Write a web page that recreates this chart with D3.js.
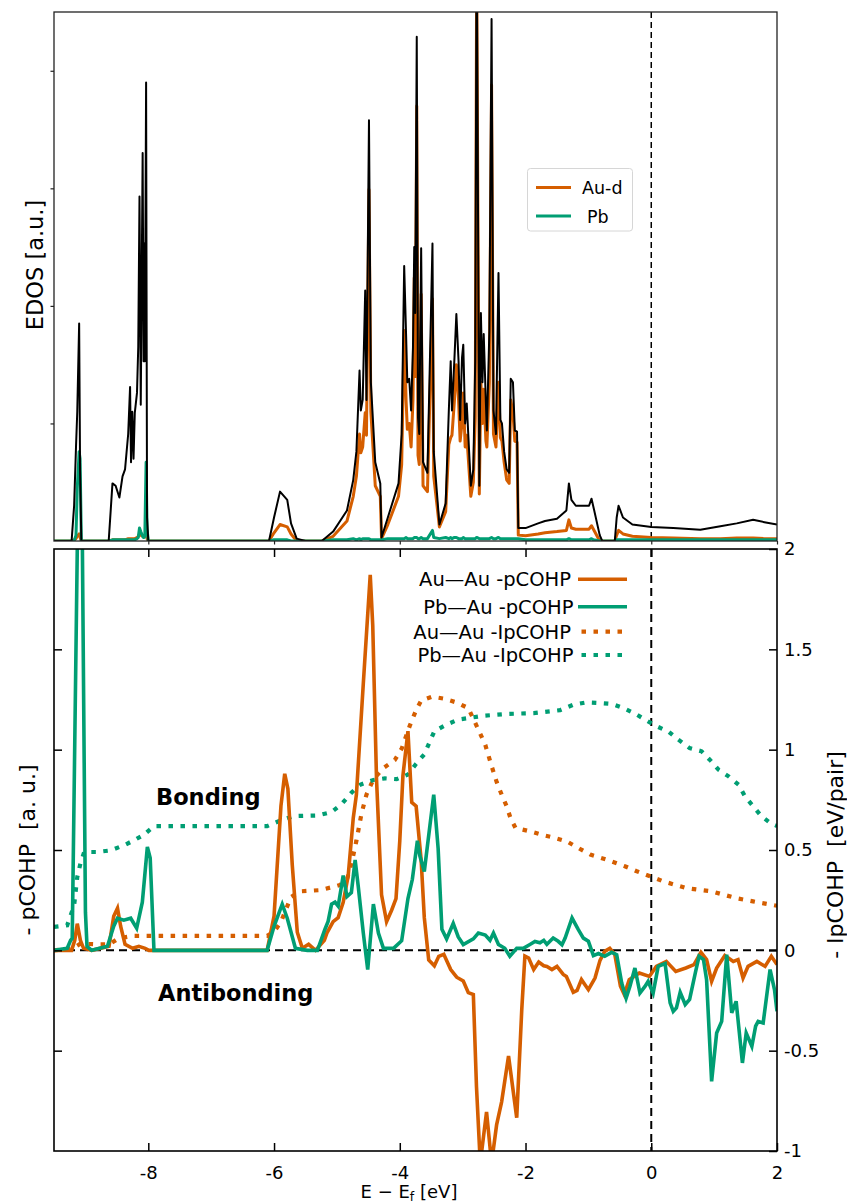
<!DOCTYPE html>
<html>
<head>
<meta charset="utf-8">
<script src="https://cdn.jsdelivr.net/npm/d3@7/dist/d3.min.js"></script>
<style>
  body { margin: 0; background: #fff; }
  svg { display: block; }
  text { font-family: "DejaVu Sans", sans-serif; fill: #000; }
</style>
</head>
<body>
<svg id="chart" width="847" height="1204"></svg>
<script>
// ---------- EDOS (upper panel): energy grid and projected densities ----------
const edosEnergy = [
  -9.50, -9.22, -9.18, -9.15, -9.13, -9.10, -9.085, -9.065,
  -8.63, -8.57, -8.52, -8.46, -8.41, -8.37, -8.32, -8.29, -8.275, -8.255, -8.235, -8.215,
  -8.18, -8.16, -8.14, -8.12, -8.09, -8.075, -8.065, -8.055, -8.035, -8.02, -8.00,
  -6.08, -6.00, -5.905, -5.79, -5.73, -5.64, -5.50,
  -5.24, -5.06, -4.84, -4.74, -4.69, -4.64, -4.62, -4.59, -4.55, -4.53, -4.49, -4.46,
  -4.39, -4.31, -4.29, -4.19, -4.02, -3.97, -3.93, -3.90, -3.88, -3.85, -3.82, -3.79,
  -3.77, -3.755, -3.73, -3.71, -3.69, -3.66, -3.63, -3.56, -3.48, -3.46, -3.37, -3.27,
  -3.22, -3.19, -3.17, -3.13, -3.10, -3.065, -3.04, -3.01, -2.99, -2.96, -2.935, -2.87,
  -2.83, -2.80, -2.777, -2.735, -2.71, -2.685, -2.665, -2.63, -2.615, -2.575, -2.54, -2.51,
  -2.47, -2.43, -2.40, -2.375, -2.34, -2.30, -2.26, -2.235, -2.20, -2.17, -2.135, -2.115,
  -2.00, -1.80, -1.69, -1.50, -1.35, -1.31, -1.27, -1.20, -0.99, -0.95, -0.92, -0.82,
  -0.78, -0.58, -0.55, -0.52, -0.45, -0.30, 0.00, 0.35, 0.78, 1.10, 1.36, 1.62, 1.80, 2.00
];
const edosTotal = [
  0, 0, 0.30, 0.80, 1.10, 1.85, 0.60, 0,
  0, 0.49, 0.47, 0.37, 0.55, 0.61, 0.91, 1.31, 0.67, 1.10, 0.70, 1.09,
  1.26, 1.65, 2.93, 1.16, 3.30, 1.53, 2.53, 1.53, 3.90, 0.20, 0,
  0, 0.20, 0.42, 0.35, 0.15, 0.02, 0,
  0, 0.08, 0.26, 0.52, 0.76, 1.45, 1.11, 1.20, 2.13, 1.20, 3.58, 1.35,
  0.67, 0.49, 0.03, 0.20, 0.49, 0.91, 2.34, 1.76, 1.35, 1.38, 1.11, 1.65,
  2.50, 1.94, 4.29, 1.05, 0.91, 2.49, 0.67, 0.58, 2.53, 0.76, 0.14, 0.32,
  1.11, 1.53, 1.11, 1.56, 1.93, 1.53, 1.03, 1.56, 1.67, 1.00, 1.17, 0.47,
  0.61, 1.53, 5.20, 0.47, 1.94, 1.35, 1.76, 1.17, 0.94, 1.79, 4.44, 1.11,
  0.91, 2.28, 1.03, 1.00, 0.76, 0.61, 0.58, 1.38, 1.35, 0.94, 0.93, 0.11,
  0.11, 0.15, 0.17, 0.19, 0.26, 0.49, 0.35, 0.30, 0.30, 0.36, 0.29, 0.05,
  0, 0, 0.20, 0.30, 0.20, 0.14, 0.12, 0.11, 0.095, 0.125, 0.15, 0.18, 0.16, 0.14
];
const edosAuD = [
  0, 0, 0.01, 0.02, 0.04, 0.06, 0.03, 0,
  0, 0.01, 0.01, 0.01, 0.01, 0.01, 0.02, 0.02, 0.02, 0.02, 0.02, 0.02,
  0.03, 0.04, 0.06, 0.05, 0.04, 0.04, 0.04, 0.04, 0.06, 0.02, 0,
  0, 0.07, 0.14, 0.12, 0.06, 0, 0,
  0, 0.04, 0.17, 0.38, 0.55, 0.91, 0.75, 0.80, 1.09, 0.90, 2.99, 1.10,
  0.47, 0.38, 0.02, 0.14, 0.38, 0.65, 1.79, 1.20, 0.95, 1.00, 0.80, 1.20,
  2.24, 1.40, 3.70, 0.73, 0.65, 2.10, 0.47, 0.42, 2.06, 0.55, 0.12, 0.25,
  0.82, 0.88, 0.90, 1.20, 1.50, 1.20, 0.85, 1.00, 1.26, 0.80, 0.90, 0.38,
  0.50, 1.05, 4.90, 0.40, 1.35, 1.00, 1.29, 0.85, 0.80, 1.35, 3.88, 0.91,
  0.80, 1.35, 0.88, 0.85, 0.67, 0.52, 0.49, 1.20, 1.09, 0.85, 0.84, 0.05,
  0.045, 0.06, 0.07, 0.08, 0.09, 0.18, 0.11, 0.10, 0.10, 0.13, 0.10, 0,
  0, 0, 0.05, 0.09, 0.06, 0.04, 0.03, 0.025, 0.02, 0.02, 0.025, 0.025, 0.02, 0.02
];
const edosPb = [
  0, 0, 0, 0.05, 0.45, 0.76, 0.70, 0,
  0, 0.01, 0.01, 0.01, 0.01, 0.01, 0.01, 0.01, 0.01, 0.01, 0.01, 0.01,
  0.02, 0.03, 0.11, 0.08, 0.04, 0.03, 0.03, 0.05, 0.67, 0.10, 0,
  0, 0.01, 0.01, 0.01, 0, 0, 0,
  0, 0.01, 0.01, 0.02, 0.01, 0.02, 0.01, 0.02, 0.02, 0.02, 0.02, 0.01,
  0.01, 0.01, 0.01, 0.02, 0.02, 0.02, 0.02, 0.03, 0.02, 0.02, 0.02, 0.02,
  0.03, 0.03, 0.03, 0.02, 0.02, 0.03, 0.02, 0.02, 0.09, 0.03, 0.02, 0.03,
  0.02, 0.03, 0.02, 0.03, 0.03, 0.02, 0.02, 0.02, 0.03, 0.02, 0.02, 0.02,
  0.02, 0.02, 0.03, 0.02, 0.02, 0.02, 0.02, 0.02, 0.02, 0.02, 0.03, 0.02,
  0.02, 0.03, 0.02, 0.02, 0.02, 0.02, 0.02, 0.02, 0.02, 0.02, 0.02, 0.02,
  0.01, 0.01, 0.01, 0.01, 0.01, 0.02, 0.01, 0.01, 0.01, 0.02, 0.01, 0,
  0, 0, 0.01, 0.01, 0.01, 0.01, 0.01, 0.01, 0.01, 0.01, 0.01, 0.01, 0.01, 0.01
];

// ---------- COHP (lower panel): [energy, value] pairs ----------
const auAuPcohp = [
  [-9.5,0],[-9.22,0],[-9.17,0.05],[-9.13,0.133],[-9.08,0.05],[-9.03,0.01],[-8.9,0],
  [-8.625,0.02],[-8.55,0.17],[-8.49,0.21],[-8.44,0.12],[-8.37,0.03],[-8.25,0.01],[-8.15,0.02],
  [-8.05,0.01],[-7.99,0],[-6.11,0],[-6.0,0.17],[-5.89,0.72],[-5.83,0.88],[-5.78,0.805],
  [-5.71,0.425],[-5.63,0.09],[-5.55,0.01],[-5.45,0.03],[-5.34,0],[-5.2,0.05],[-5.16,0.086],
  [-5.06,0.143],[-4.98,0.163],[-4.90,0.239],[-4.82,0.373],[-4.74,0.66],[-4.69,0.776],
  [-4.58,1.33],[-4.47,1.871],[-4.43,1.618],[-4.37,0.852],[-4.29,0.277],[-4.21,0.143],
  [-4.13,0.2],[-4.06,0.258],[-4.0,0.546],[-3.95,0.871],[-3.87,1.092],[-3.81,0.737],
  [-3.74,0.718],[-3.66,0.45],[-3.61,0.163],[-3.54,-0.048],[-3.45,-0.077],[-3.38,-0.03],
  [-3.30,-0.02],[-3.19,-0.096],[-3.095,-0.134],[-2.99,-0.153],[-2.91,-0.211],[-2.83,-0.22],
  [-2.78,-0.68],[-2.72,-1.06],[-2.62,-0.805],[-2.54,-1.06],[-2.46,-0.87],[-2.38,-0.755],
  [-2.27,-0.527],[-2.14,-0.834],[-2.06,-0.297],[-2.01,-0.029],[-1.95,-0.038],[-1.87,-0.096],
  [-1.79,-0.058],[-1.71,-0.077],[-1.66,-0.08],[-1.58,-0.096],[-1.50,-0.08],[-1.40,-0.12],
  [-1.35,-0.13],[-1.24,-0.209],[-1.18,-0.2],[-1.11,-0.146],[-1.0,-0.196],[-0.895,-0.138],
  [-0.815,-0.05],[-0.74,-0.005],[-0.66,0.01],[-0.58,-0.02],[-0.49,-0.179],[-0.43,-0.22],
  [-0.35,-0.146],[-0.19,-0.113],[-0.03,-0.13],[0.08,-0.08],[0.24,-0.055],[0.39,-0.105],
  [0.55,-0.088],[0.68,-0.071],[0.79,-0.01],[0.88,-0.046],[0.96,-0.154],[1.04,-0.088],
  [1.17,-0.026],[1.305,-0.055],[1.38,-0.046],[1.46,-0.138],[1.54,-0.08],[1.68,-0.055],
  [1.81,-0.08],[1.91,-0.03],[2.0,-0.071]
];
const pbAuPcohp = [
  [-9.5,0],[-9.29,0.01],[-9.235,0.05],[-9.21,0.06],[-9.08,3.2],[-9.0,0.19],[-8.975,0.02],
  [-8.9,0],[-8.65,0.02],[-8.55,0.12],[-8.49,0.16],[-8.39,0.15],[-8.28,0.16],[-8.185,0.11],
  [-8.095,0.24],[-8.015,0.515],[-7.97,0.46],[-7.91,0],[-6.11,0],[-6.0,0.12],[-5.87,0.23],
  [-5.79,0.16],[-5.66,0.01],[-5.47,0],[-5.31,0],[-5.19,0.105],[-5.14,0.144],[-5.085,0.23],
  [-5.03,0.24],[-4.98,0.22],[-4.90,0.373],[-4.84,0.268],[-4.77,0.288],[-4.71,0.45],
  [-4.66,0.317],[-4.58,0.086],[-4.51,-0.096],[-4.42,0.23],[-4.34,0.086],[-4.26,0.01],
  [-4.10,0.01],[-3.97,0.048],[-3.87,0.258],[-3.80,0.354],[-3.72,0.546],[-3.68,0.47],
  [-3.61,0.393],[-3.52,0.623],[-3.46,0.776],[-3.39,0.508],[-3.33,0.105],[-3.255,0.057],
  [-3.15,0.134],[-3.07,0.067],[-2.99,0.029],[-2.83,0.057],[-2.75,0.086],[-2.64,0.076],
  [-2.565,0.05],[-2.51,0.086],[-2.43,0.029],[-2.33,0.01],[-2.25,-0.029],[-2.14,0.01],
  [-2.035,0.01],[-1.93,0.029],[-1.85,0.044],[-1.77,0.038],[-1.71,0.05],[-1.66,0.03],
  [-1.56,0.061],[-1.48,0.045],[-1.42,0.028],[-1.37,0.061],[-1.26,0.161],[-1.16,0.103],
  [-1.08,0.061],[-1.0,0.045],[-0.92,-0.026],[-0.84,-0.016],[-0.74,-0.03],[-0.63,-0.01],
  [-0.55,-0.022],[-0.47,-0.163],[-0.40,-0.238],[-0.34,-0.18],[-0.26,-0.088],[-0.18,-0.213],
  [-0.10,-0.18],[-0.05,-0.155],[0.03,-0.213],[0.11,-0.08],[0.22,-0.066],[0.30,-0.262],
  [0.35,-0.304],[0.40,-0.287],[0.46,-0.209],[0.54,-0.27],[0.61,-0.245],[0.70,-0.113],
  [0.76,-0.03],[0.83,-0.046],[0.88,-0.146],[0.96,-0.653],[1.04,-0.412],[1.12,-0.354],
  [1.20,-0.022],[1.28,-0.312],[1.35,-0.254],[1.45,-0.561],[1.51,-0.412],[1.60,-0.478],
  [1.66,-0.378],[1.70,-0.354],[1.78,-0.362],[1.89,-0.096],[1.96,-0.196],[2.0,-0.304]
];
const auAuIpcohp = [
  [-9.5,0],[-9.2,0.01],[-9.08,0.033],[-8.8,0.03],[-8.62,0.03],[-8.47,0.06],[-8.25,0.072],
  [-6.11,0.072],[-6.0,0.092],[-5.89,0.142],[-5.73,0.266],[-5.58,0.294],[-5.27,0.3],
  [-5.06,0.316],[-4.95,0.326],[-4.84,0.354],[-4.77,0.43],[-4.69,0.546],[-4.61,0.68],
  [-4.53,0.776],[-4.42,0.852],[-4.26,0.909],[-4.08,0.948],[-3.97,1.005],[-3.84,1.12],
  [-3.74,1.197],[-3.66,1.245],[-3.49,1.264],[-3.31,1.255],[-3.095,1.235],[-2.91,1.207],
  [-2.75,1.10],[-2.64,1.024],[-2.54,0.919],[-2.46,0.84],[-2.38,0.776],[-2.30,0.718],
  [-2.24,0.66],[-2.16,0.61],[-1.93,0.593],[-1.72,0.574],[-1.53,0.56],[-1.345,0.543],
  [-1.16,0.51],[-0.97,0.477],[-0.71,0.452],[-0.42,0.419],[-0.23,0.394],[-0.02,0.369],
  [0.19,0.344],[0.56,0.31],[0.96,0.294],[1.35,0.26],[1.62,0.244],[2.0,0.222]
];
const pbAuIpcohp = [
  [-9.5,0.117],[-9.29,0.125],[-9.18,0.224],[-9.13,0.365],[-9.08,0.432],[-9.02,0.49],
  [-8.81,0.49],[-8.6,0.498],[-8.39,0.523],[-8.23,0.548],[-8.07,0.576],[-7.91,0.619],
  [-6.11,0.619],[-5.89,0.648],[-5.68,0.669],[-5.31,0.672],[-5.085,0.689],[-4.93,0.727],
  [-4.77,0.785],[-4.64,0.824],[-4.42,0.849],[-4.235,0.857],[-4.05,0.853],[-3.87,0.876],
  [-3.74,0.93],[-3.61,0.977],[-3.45,1.092],[-3.255,1.125],[-3.07,1.15],[-2.855,1.16],
  [-2.67,1.169],[-2.30,1.178],[-1.87,1.182],[-1.45,1.197],[-1.24,1.224],[-1.03,1.236],
  [-0.84,1.233],[-0.63,1.228],[-0.45,1.208],[-0.26,1.18],[-0.075,1.145],[0.09,1.116],
  [0.27,1.091],[0.43,1.05],[0.61,1.008],[0.80,0.992],[0.93,0.95],[1.07,0.9],[1.23,0.867],
  [1.39,0.825],[1.49,0.768],[1.62,0.718],[1.755,0.668],[1.91,0.631],[2.0,0.62]
];

// ---------- ticks and labels ----------
const energyTicks = [-8, -6, -4, -2, 0, 2];
const edosTicks = [1, 2, 3, 4];
const cohpTicks = [-1, -0.5, 0, 0.5, 1, 1.5, 2];
const cohpInnerTicks = [-0.5, 0, 0.5, 1, 1.5];
const edosLegend = ["Au-d", "Pb"];
const cohpLegend = ["Au\u2014Au -pCOHP", "Pb\u2014Au -pCOHP", "Au\u2014Au -IpCOHP", "Pb\u2014Au -IpCOHP"];

const ORANGE = "#d55e00";
const GREEN = "#009e73";

const svg = d3.select("#chart");

// shared energy axis
const x = d3.scaleLinear().domain([-9.5, 2]).range([54, 777]);
const yTop = d3.scaleLinear().domain([0, 4.5]).range([541, 12]);
const yBot = d3.scaleLinear().domain([-1, 2]).range([1151, 549]);

const defs = svg.append("defs");
defs.append("clipPath").attr("id", "clipTop")
  .append("rect").attr("x", 54).attr("y", 12).attr("width", 723).attr("height", 529);
defs.append("clipPath").attr("id", "clipBot")
  .append("rect").attr("x", 54).attr("y", 549).attr("width", 723).attr("height", 602);

const noDomain = g => g.select(".domain").remove();

// ================= upper panel: EDOS =================
const edosPanel = svg.append("g");

edosPanel.append("line")
  .attr("x1", x(0)).attr("x2", x(0)).attr("y1", 12).attr("y2", 541)
  .attr("stroke", "#000").attr("stroke-width", 1.5).attr("stroke-dasharray", "6,4");

const edosLine = vals => d3.line()
  .x((d, i) => x(edosEnergy[i]))
  .y((d, i) => yTop(vals[i]))(vals);

const edosCurves = edosPanel.append("g").attr("clip-path", "url(#clipTop)")
  .attr("fill", "none").attr("stroke-linejoin", "round");
edosCurves.append("path").attr("d", edosLine(edosAuD)).attr("stroke", ORANGE).attr("stroke-width", 3);
edosCurves.append("path").attr("d", edosLine(edosPb)).attr("stroke", GREEN).attr("stroke-width", 3);
edosCurves.append("path").attr("d", edosLine(edosTotal)).attr("stroke", "#000").attr("stroke-width", 2);

edosPanel.append("g").attr("transform", "translate(54,0)")
  .call(d3.axisLeft(yTop).tickValues(edosTicks).tickSize(3.5).tickFormat(""))
  .call(noDomain)
  .selectAll("line").attr("stroke", "#222").attr("stroke-width", 1.2);
edosPanel.append("g").attr("transform", "translate(0,541)")
  .call(d3.axisBottom(x).tickValues(energyTicks).tickSize(3.5).tickFormat(""))
  .call(noDomain)
  .selectAll("line").attr("stroke", "#222").attr("stroke-width", 1.2);

edosPanel.append("rect").attr("x", 54).attr("y", 12).attr("width", 723).attr("height", 529)
  .attr("fill", "none").attr("stroke", "#222").attr("stroke-width", 1.3);

edosPanel.append("text")
  .attr("transform", "translate(43,265) rotate(-90)")
  .attr("text-anchor", "middle").attr("font-size", 22.5)
  .text("EDOS [a.u.]");

// legend
const edosLeg = edosPanel.append("g");
edosLeg.append("rect").attr("x", 527.5).attr("y", 168.5).attr("width", 105).attr("height", 62.5)
  .attr("rx", 3).attr("fill", "#fff").attr("fill-opacity", 0.8)
  .attr("stroke", "#d6d6d6").attr("stroke-width", 1);
const edosLegRows = [
  { label: edosLegend[0], color: ORANGE, y: 187.6, tx: 582 },
  { label: edosLegend[1], color: GREEN, y: 216, tx: 587 }
];
edosLegRows.forEach(r => {
  edosLeg.append("line").attr("x1", 536).attr("x2", 571).attr("y1", r.y).attr("y2", r.y)
    .attr("stroke", r.color).attr("stroke-width", 3);
  edosLeg.append("text").attr("x", r.tx).attr("y", r.y + 6.6)
    .attr("font-size", 17.5).text(r.label);
});

// ================= lower panel: COHP =================
const cohpPanel = svg.append("g");

cohpPanel.append("line")
  .attr("x1", 54).attr("x2", 777).attr("y1", yBot(0)).attr("y2", yBot(0))
  .attr("stroke", "#000").attr("stroke-width", 2).attr("stroke-dasharray", "8,5");
cohpPanel.append("line")
  .attr("x1", x(0)).attr("x2", x(0)).attr("y1", 549).attr("y2", 1151)
  .attr("stroke", "#000").attr("stroke-width", 2).attr("stroke-dasharray", "8,5");

const cohpLine = d3.line().x(d => x(d[0])).y(d => yBot(d[1]));
const cohpCurves = cohpPanel.append("g").attr("clip-path", "url(#clipBot)")
  .attr("fill", "none");
cohpCurves.append("path").attr("d", cohpLine(auAuIpcohp))
  .attr("stroke", ORANGE).attr("stroke-width", 4.2).attr("stroke-dasharray", "4.5,7.5");
cohpCurves.append("path").attr("d", cohpLine(pbAuIpcohp))
  .attr("stroke", GREEN).attr("stroke-width", 4.2).attr("stroke-dasharray", "4.5,7.5");
cohpCurves.append("path").attr("d", cohpLine(auAuPcohp))
  .attr("stroke", ORANGE).attr("stroke-width", 3.6).attr("stroke-linejoin", "miter");
cohpCurves.append("path").attr("d", cohpLine(pbAuPcohp))
  .attr("stroke", GREEN).attr("stroke-width", 3.6).attr("stroke-linejoin", "miter");

// axes with inward ticks
const tickStyle = g => g.selectAll("line").attr("stroke", "#000").attr("stroke-width", 1.5);
cohpPanel.append("g").attr("transform", "translate(0,1151)")
  .call(d3.axisBottom(x).tickValues(energyTicks).tickSizeInner(-8).tickSizeOuter(0)
    .tickPadding(15).tickFormat(d => String(d)))
  .call(noDomain).call(tickStyle)
  .selectAll("text").attr("font-size", 18).attr("font-family", "DejaVu Sans, sans-serif");
cohpPanel.append("g").attr("transform", "translate(0,549)")
  .call(d3.axisTop(x).tickValues(energyTicks.slice(0, 5)).tickSizeInner(-8).tickSizeOuter(0).tickFormat(""))
  .call(noDomain).call(tickStyle);
cohpPanel.append("g").attr("transform", "translate(54,0)")
  .call(d3.axisLeft(yBot).tickValues(cohpInnerTicks).tickSizeInner(-8).tickSizeOuter(0).tickFormat(""))
  .call(noDomain).call(tickStyle);
cohpPanel.append("g").attr("transform", "translate(777,0)")
  .call(d3.axisRight(yBot).tickValues(cohpTicks).tickSizeInner(-8).tickSizeOuter(0)
    .tickPadding(7).tickFormat(d => String(d)))
  .call(noDomain).call(tickStyle)
  .selectAll("text").attr("font-size", 18).attr("font-family", "DejaVu Sans, sans-serif");

cohpPanel.append("rect").attr("x", 54).attr("y", 549).attr("width", 723).attr("height", 602)
  .attr("fill", "none").attr("stroke", "#000").attr("stroke-width", 1.6);

// region annotations
cohpPanel.append("text").attr("x", 156).attr("y", 805)
  .attr("font-size", 22.5).attr("font-weight", "bold").text("Bonding");
cohpPanel.append("text").attr("x", 158).attr("y", 1001)
  .attr("font-size", 22.5).attr("font-weight", "bold").text("Antibonding");

// axis titles
cohpPanel.append("text")
  .attr("transform", "translate(35,850) rotate(-90)")
  .attr("text-anchor", "middle").attr("font-size", 22)
  .style("white-space", "pre")
  .text("- pCOHP  [a. u.]");
cohpPanel.append("text")
  .attr("transform", "translate(843,855) rotate(-90)")
  .attr("text-anchor", "middle").attr("font-size", 22)
  .style("white-space", "pre")
  .text("- IpCOHP  [eV/pair]");

const xTitle = svg.append("text").attr("x", 409).attr("y", 1198)
  .attr("text-anchor", "middle").attr("font-size", 18);
xTitle.append("tspan").text("E \u2212 E");
xTitle.append("tspan").attr("font-size", 12.5).attr("dy", 3).text("f");
xTitle.append("tspan").attr("dy", -3).text(" [eV]");

// legend
const cohpLeg = cohpPanel.append("g");
const cohpLegRows = [
  { label: cohpLegend[0], color: ORANGE, y: 579.3, end: 571, dotted: false },
  { label: cohpLegend[1], color: GREEN, y: 606.7, end: 573.5, dotted: false },
  { label: cohpLegend[2], color: ORANGE, y: 631.7, end: 571, dotted: true },
  { label: cohpLegend[3], color: GREEN, y: 655, end: 573.5, dotted: true }
];
cohpLegRows.forEach(r => {
  cohpLeg.append("text").attr("x", r.end).attr("y", r.y + 7)
    .attr("text-anchor", "end").attr("font-size", 19.5).text(r.label);
  const ln = cohpLeg.append("line").attr("y1", r.y).attr("y2", r.y).attr("stroke", r.color);
  if (r.dotted) {
    ln.attr("x1", 581.5).attr("x2", 626).attr("stroke-width", 4.2).attr("stroke-dasharray", "4.5,7.5");
  } else {
    ln.attr("x1", 578).attr("x2", 627).attr("stroke-width", 3.6);
  }
});
</script>
</body>
</html>
